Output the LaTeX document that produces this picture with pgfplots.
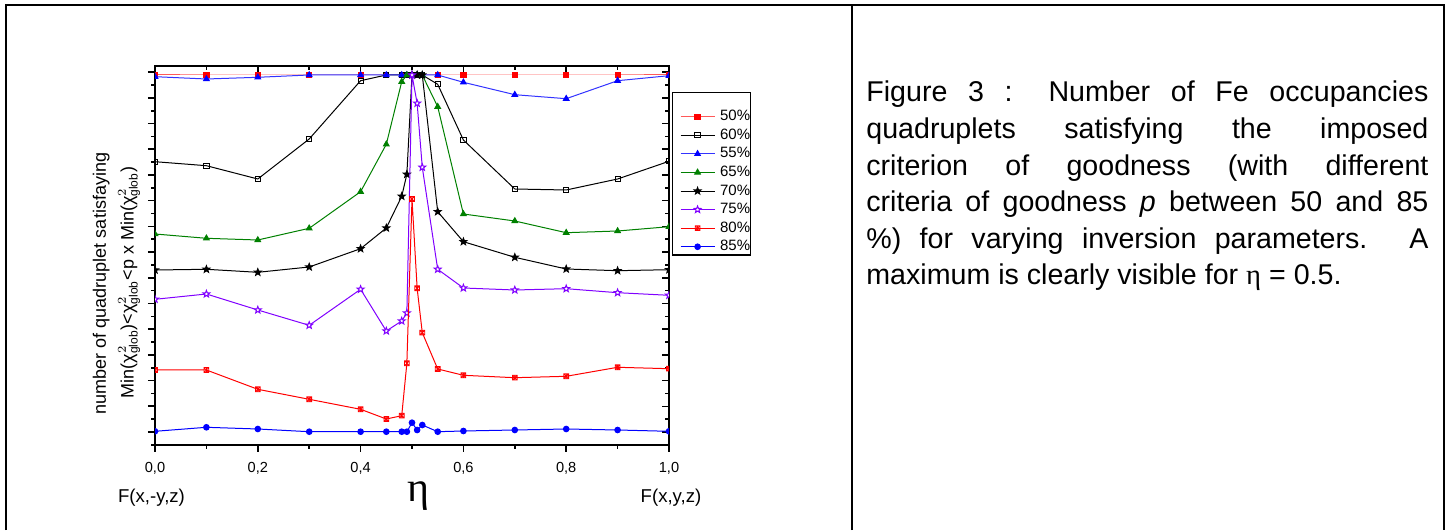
\documentclass[border=0pt]{standalone}
\usepackage{fontspec}
\setmainfont{Liberation Sans}
\newfontfamily\serifeta{Liberation Serif}
\usepackage{amsmath}
\usepackage{pgfplots}
\usepackage{pgfplotstable}
\pgfplotsset{compat=1.18}
\usetikzlibrary{plotmarks}
\definecolor{cgreen}{RGB}{0,128,0}
\definecolor{cviolet}{RGB}{128,0,255}
\definecolor{cblue}{RGB}{0,0,255}
\definecolor{cred}{RGB}{255,0,0}
\pgfdeclareplotmark{fstar}{%
  \pgfpathmoveto{\pgfqpointpolar{90}{\pgfplotmarksize}}%
  \pgfpathlineto{\pgfqpointpolar{126}{0.42\pgfplotmarksize}}%
  \pgfpathlineto{\pgfqpointpolar{162}{\pgfplotmarksize}}%
  \pgfpathlineto{\pgfqpointpolar{198}{0.42\pgfplotmarksize}}%
  \pgfpathlineto{\pgfqpointpolar{234}{\pgfplotmarksize}}%
  \pgfpathlineto{\pgfqpointpolar{270}{0.42\pgfplotmarksize}}%
  \pgfpathlineto{\pgfqpointpolar{306}{\pgfplotmarksize}}%
  \pgfpathlineto{\pgfqpointpolar{342}{0.42\pgfplotmarksize}}%
  \pgfpathlineto{\pgfqpointpolar{18}{\pgfplotmarksize}}%
  \pgfpathlineto{\pgfqpointpolar{54}{0.42\pgfplotmarksize}}%
  \pgfpathclose
  \pgfusepathqfillstroke}
\pgfdeclareplotmark{boxast}{%
  \pgfpathrectangle{\pgfqpoint{-\pgfplotmarksize}{-\pgfplotmarksize}}{\pgfqpoint{2\pgfplotmarksize}{2\pgfplotmarksize}}%
  \pgfpathmoveto{\pgfqpoint{-\pgfplotmarksize}{-\pgfplotmarksize}}\pgfpathlineto{\pgfqpoint{\pgfplotmarksize}{\pgfplotmarksize}}%
  \pgfpathmoveto{\pgfqpoint{-\pgfplotmarksize}{\pgfplotmarksize}}\pgfpathlineto{\pgfqpoint{\pgfplotmarksize}{-\pgfplotmarksize}}%
  \pgfpathmoveto{\pgfqpoint{0pt}{-\pgfplotmarksize}}\pgfpathlineto{\pgfqpoint{0pt}{\pgfplotmarksize}}%
  \pgfusepathqstroke}

\pgfplotstableread{
x p50 p60 p55 p65 p70 p75 p80 p85
0 370 283.3 368.3 211 175 145.7 75 13.7
0.1 370 279.3 366 206.7 175.7 151 75 17.7
0.2 370 266 367.7 205 172.7 135 55.7 16
0.3 370 306 370 216.7 178 119.7 45.7 13.3
0.4 370 364.3 370 253.3 196.3 155.7 35.7 13.3
0.45 370 370 370 300.7 217 114 26 13.3
0.48 370 370 370 363.3 248.7 124 29.3 13.3
0.49 370 370 370 370 270.7 132 81.7 13.3
0.5 370 370 370 370 370 370 246 22.3
0.51 370 370 370 370 370 341.7 156.7 15
0.52 370 370 370 370 370 277.7 112.3 20
0.55 370 360.7 370 338.3 233.3 175.7 76 13.3
0.6 370 305 362.7 231 203.3 157 69.7 14
0.7 370 256 350.3 224 187.7 155 67.3 15
0.8 370 255 346.3 212.3 176 156.3 68.7 16
0.9 370 266 364.3 214 174.3 152.3 77.7 15
1.0 370 283.7 369.3 218.3 175.3 149.7 76.3 13.7
}\data

\pgfplotsset{
  commonax/.style={
    at={(77.5pt,42.5pt)}, anchor=south west,
    width=257pt, height=189.5pt, scale only axis,
    xmin=0, xmax=1, ymin=0, ymax=379,
    xtick={0,0.2,0.4,0.6,0.8,1},
    minor xtick={0.1,0.3,0.5,0.7,0.9},
    ytick={13,38.7,64.4,90.1,115.8,141.5,167.2,192.9,218.6,244.3,270,295.7,321.4,347.1,372.8},
    minor ytick={0.15,25.85,51.55,77.25,102.95,128.65,154.35,180.05,205.75,231.45,257.15,282.85,308.55,334.25,359.95},
    yticklabels={},
    axis line style={line width=0.9pt},
    tick style={line width=0.8pt, black},
    major tick length=3.5pt, minor tick length=2pt,
  }
}

\begin{document}
\begin{tikzpicture}
\useasboundingbox (0,0) rectangle (725pt,265pt);
% frame
\draw[line width=1.3pt] (3pt,0pt) -- (3pt,262.5pt) -- (722pt,262.5pt) -- (722pt,0pt);
\draw[line width=1.3pt] (426pt,0pt) -- (426pt,262.5pt);

% axis with top/right ticks pointing inside
\begin{axis}[commonax, tick align=inside, xtick pos=right, ytick pos=right, xticklabels={}]
\end{axis}

\begin{axis}[commonax, tick align=outside, xtick pos=left, ytick pos=left,
  clip marker paths=true,
  /pgf/number format/assume math mode=true,
  xticklabel style={font=\fontsize{7.3}{8}\selectfont, anchor=base, yshift=-10pt,
     /pgf/number format/.cd, use comma, fixed, fixed zerofill, precision=1},
  every axis plot/.append style={line width=0.5pt},
  legend cell align=left,
  legend style={draw=none, fill=none, at={(1.0214,0.8847)}, anchor=north west,
    inner sep=0pt, outer sep=0pt, row sep=2.29pt,
    font=\fontsize{7.5}{8}\selectfont,
    nodes={inner sep=0pt, text height=5.5pt, text depth=1.5pt},
    /tikz/every odd column/.style={column sep=2.5pt}},
]
\addplot[color=cred!65, mark=square*, mark size=1.3pt, mark options={fill=cred, draw=cred}] table[x=x,y=p50]{\data};
\addlegendentry{50\%}
\addplot[color=black, mark=square, mark size=1.3pt, mark options={fill=white}] table[x=x,y=p60]{\data};
\addlegendentry{60\%}
\addplot[color=cblue!80, mark=triangle*, mark size=1.6pt, mark options={fill=cblue, draw=cblue}] table[x=x,y=p55]{\data};
\addlegendentry{55\%}
\addplot[color=cgreen, mark=triangle*, mark size=1.6pt, mark options={fill=cgreen}] table[x=x,y=p65]{\data};
\addlegendentry{65\%}
\addplot[color=black, mark=fstar, mark size=1.8pt, mark options={fill=black}] table[x=x,y=p70]{\data};
\addlegendentry{70\%}
\addplot[color=cviolet, mark=fstar, mark size=1.8pt, mark options={fill=white}] table[x=x,y=p75]{\data};
\addlegendentry{75\%}
\addplot[color=cred, mark=boxast, mark size=1.2pt, mark options={line width=0.4pt}] table[x=x,y=p80]{\data};
\addlegendentry{80\%}
\addplot[color=cblue, mark=*, mark size=1.4pt] table[x=x,y=p85]{\data};
\addlegendentry{85\%}
\end{axis}

% legend frame
\draw[line width=0.7pt] (336.35pt,218.65pt) rectangle (375.35pt,137.5pt);

% y label
\node[rotate=90, anchor=base, inner sep=0pt, font=\fontsize{9}{10}\selectfont] at (52.9pt,123.25pt) {number of quadruplet satisfaying};
\node[rotate=90, anchor=base, inner sep=0pt, font=\fontsize{9}{10}\selectfont] at (66.8pt,123.75pt)
  {Min(χ${}^{2}_{\text{glob}}$)<χ${}^{2}_{\text{glob}}$<p x Min(χ${}^{2}_{\text{glob}}$)};

% x labels
\node[anchor=base, inner sep=0pt, font=\fontsize{9.3}{10}\selectfont] at (75.75pt,14pt) {F(x,-y,z)};
\node[anchor=base, inner sep=0pt, font=\fontsize{9.3}{10}\selectfont] at (335.5pt,14pt) {F(x,y,z)};
\node[anchor=base, inner sep=0pt, font=\fontsize{21}{22}\serifeta] at (209.35pt,14.5pt) {η};

% caption
\node[anchor=base west, inner sep=0pt] at (433pt,214pt) {\parbox[t]{281pt}{\fontsize{14.3}{18.3}\selectfont
Figure 3 : Number of Fe occupancies\linebreak
quadruplets satisfying the imposed\linebreak
criterion of goodness (with different\linebreak
criteria of goodness \textit{p} between 50 and 85\linebreak
\%) for varying inversion parameters. A\linebreak
maximum is clearly visible for {\serifeta η} = 0.5.}};
\end{tikzpicture}
\end{document}
